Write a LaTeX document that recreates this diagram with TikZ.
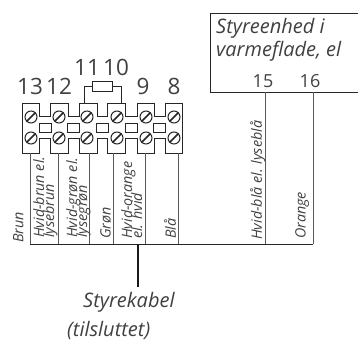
\documentclass[tikz,border=0pt]{standalone}
\usepackage{fontspec}
\setmainfont{Open Sans}
\tikzset{
  outline/.style={draw=black!85,line width=1pt},
  wire/.style={draw=black!65,line width=1pt},
  cable/.style={draw=black!90,line width=2pt},
  num/.style={font=\fontsize{22.5}{23}\selectfont,text=black!75,inner sep=0pt},
  smallnum/.style={font=\fontsize{18}{18}\selectfont,text=black!75,inner sep=0pt},
  lab/.style={font=\itshape\fontsize{20}{23}\selectfont,text=black!75,inner sep=0pt,align=left},
  vlab/.style={font=\itshape\fontsize{14.3}{16}\selectfont,text=black!75,inner sep=0pt,align=left,rotate=90,anchor=north west},
  link/.style={outline,fill=white,minimum width=12pt,minimum height=9pt,inner sep=0pt},
  screw/.style={outline,fill=white,circle,minimum size=12pt,inner sep=0pt},
}
\begin{document}
\begin{tikzpicture}[x=1pt,y=-1pt]
\useasboundingbox (0,0) rectangle (358,343);
% terminal strip outline
\draw[outline] (22,103) -- (39,103) -- (39,116) -- (50,116) -- (50,103) -- (68,103) -- (68,116) -- (79,116) -- (79,103) -- (97,103) -- (97,116) -- (107.5,116) -- (107.5,103) -- (125,103) -- (125,116) -- (137,116) -- (137,103) -- (154,103) -- (154,116) -- (165,116) -- (165,103) -- (182,103) -- (182,153) -- (165,153) -- (165,138) -- (154,138) -- (154,153) -- (137,153) -- (137,138) -- (125,138) -- (125,153) -- (107.5,153) -- (107.5,138) -- (97,138) -- (97,153) -- (79,153) -- (79,138) -- (68,138) -- (68,153) -- (50,153) -- (50,138) -- (39,138) -- (39,153) -- (22,153) -- cycle;
\foreach \n/\x in {a/45,b/73.5,c/102,d/131,e/159}
  \node[link] (link\n) at (\x,127.5) {};
\foreach \n/\x in {a/31,b/59,c/87,d/117,e/146,f/174}{
  \node[screw] (st\n) at (\x,117) {};
  \node[screw] (sb\n) at (\x,138) {};
  \draw[outline,line width=1.5pt] (st\n.south west) -- (st\n.north east);
  \draw[outline,line width=1.5pt] (sb\n.south west) -- (sb\n.north east);
}
% resistor
\node[outline,minimum width=20pt,minimum height=10pt,inner sep=0pt] (res) at (102.7,86) {};
\coordinate (t3) at (84,103);
\coordinate (t4) at (121.7,103);
\draw[outline] (res.west) -| (t3);
\draw[outline] (res.east) -| (t4);
% terminal numbers
\node[num] (n13) at (30,86) {13};
\node[num] (n12) at (59,86) {12};
\node[num] (n11) at (87,67) {11};
\node[num] (n10) at (116,67) {10};
\node[num] (n9) at (143,86) {9};
\node[num] (n8) at (174,86) {8};
% control unit
\coordinate (boxtl) at (210,13);
\coordinate (boxtr) at (358,13);
\coordinate (boxbl) at (210,92);
\coordinate (boxbr) at (358,92);
\draw[outline] (boxtr) -- (boxtl) -- (boxbl) -- (boxbr);
\node[lab,anchor=north west] (unit) at (216,18) {Styreenhed i\\varmeflade, el};
\node[smallnum] (n15) at (263,81) {15};
\node[smallnum] (n16) at (310,81) {16};
% wires
\coordinate (w1t) at (30,153);
\coordinate (w2t) at (58.5,153);
\coordinate (w3t) at (89,153);
\coordinate (w4t) at (113,153);
\coordinate (w5t) at (145,153);
\coordinate (w6t) at (178,153);
\coordinate (w7t) at (265,92);
\coordinate (w8t) at (313,92);
\coordinate (busl) at (30,244);
\coordinate (busr) at (313,244);
\foreach \w in {1,...,8}
  \draw[wire] (w\w t) -- (w\w t |- busl);
\draw[wire,black!85] (busl) -- (busr);
% control cable
\coordinate (cabt) at (138,244);
\coordinate (cabb) at (138,287);
\draw[cable] (cabt) -- (cabb);
% wire labels
\node[vlab] (l1) at (13,243) {Brun};
\node[vlab] (l2) at (33,238) {Hvid-brun el.\\[-6pt]lysebrun};
\node[vlab] (l3) at (66,238) {Hvid-grøn el.\\[-6pt]lysegrøn};
\node[vlab] (l4) at (100,239) {Grøn};
\node[vlab] (l5) at (121,239) {Hvid-orange\\[-6pt]el. hvid};
\node[vlab] (l6) at (164,239) {Blå};
\node[vlab] (l7) at (250,240) {Hvid-blå el. lyseblå};
\node[vlab] (l8) at (295,239) {Orange};
% cable label
\node[lab,anchor=base west] (sk) at (83,307) {Styrekabel};
\node[lab,anchor=base west] (ti) at (67,336) {(tilsluttet)};
\end{tikzpicture}
\end{document}
